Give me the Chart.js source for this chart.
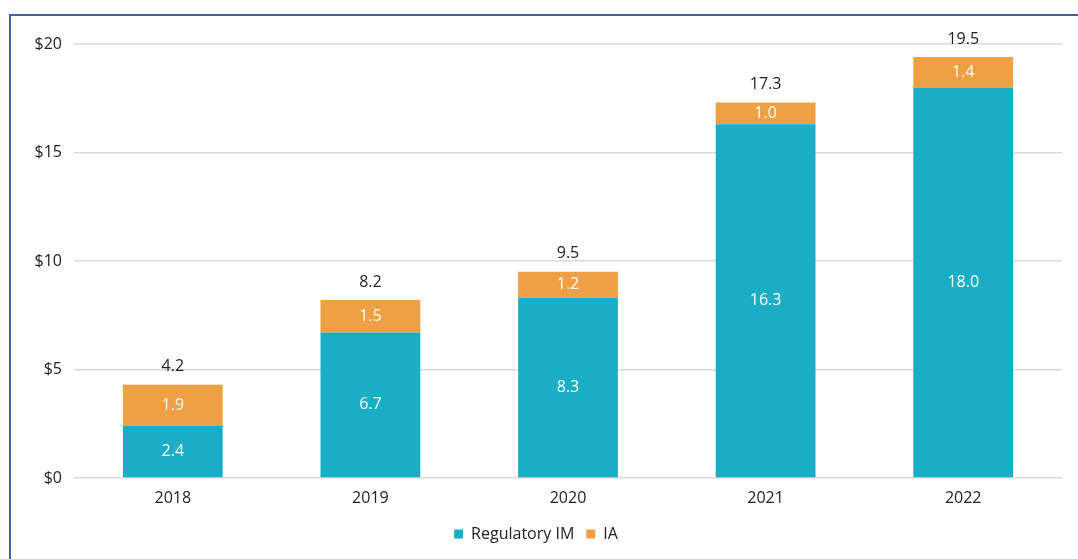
<!DOCTYPE html>
<html>
<head>
<meta charset="utf-8">
<script src="https://cdn.jsdelivr.net/npm/chart.js@4.4.0/dist/chart.umd.min.js"></script>
<style>
  html, body { margin: 0; padding: 0; background: #fff; overflow: hidden; }
  #frame { position: absolute; left: 9px; top: 14px; width: 1200px; height: 700px;
           border-left: 2px solid #3d62a6; border-top: 2px solid #3d62a6; }
  #wrap { position: absolute; left: 0; top: 0; width: 1078px; height: 559px; }
</style>
</head>
<body>
<div id="frame"></div>
<div id="wrap"><canvas id="chart" width="1078" height="559"></canvas></div>
<script>
const years = ['2018', '2019', '2020', '2021', '2022'];
const regulatoryIM = [2.4, 6.7, 8.3, 16.3, 18.0];
const ia = [1.9, 1.5, 1.2, 1.0, 1.4];
const totals = [4.2, 8.2, 9.5, 17.3, 19.5];
const yTicks = [0, 5, 10, 15, 20];

const FONT = '"Open Sans", "Noto Sans", sans-serif';

// labels inside bars and totals above
const valueLabels = {
    id: 'valueLabels',
    afterDatasetsDraw(chart) {
        const ctx = chart.ctx;
        ctx.save();
        ctx.textAlign = 'center';
        ctx.textBaseline = 'middle';
        ctx.font = '16px ' + FONT;
        chart.data.datasets.forEach((ds, i) => {
            const meta = chart.getDatasetMeta(i);
            meta.data.forEach((bar, j) => {
                const mid = (bar.y + bar.base) / 2;
                ctx.fillStyle = '#ffffff';
                ctx.fillText(ds.data[j].toFixed(1), bar.x, mid);
            });
        });
        const top = chart.getDatasetMeta(chart.data.datasets.length - 1);
        top.data.forEach((bar, j) => {
            ctx.fillStyle = '#222222';
            ctx.fillText(totals[j].toFixed(1), bar.x, bar.y - 18);
        });
        ctx.restore();
    }
};

new Chart(document.getElementById('chart'), {
    type: 'bar',
    data: {
        labels: years,
        datasets: [
            { label: 'Regulatory IM', data: regulatoryIM, backgroundColor: '#1aaec6' },
            { label: 'IA', data: ia, backgroundColor: '#f0a044' }
        ]
    },
    options: {
        responsive: false,
        animation: false,
        layout: { padding: { left: 10, right: 16, top: 44, bottom: 7 } },
        datasets: { bar: { categoryPercentage: 1, barPercentage: 0.505 } },
        plugins: {
            legend: {
                position: 'bottom',
                labels: {
                    boxWidth: 9, boxHeight: 9, padding: 12,
                    color: '#222', font: { family: FONT, size: 16 }
                }
            },
            tooltip: { enabled: false }
        },
        scales: {
            x: {
                stacked: true,
                grid: { display: false },
                border: { display: false },
                ticks: { color: '#222', font: { family: FONT, size: 16 }, padding: 3 },
                afterFit: axis => { axis.height = 36; }
            },
            y: {
                stacked: true,
                min: 0, max: 20,
                afterBuildTicks: axis => { axis.ticks = yTicks.map(v => ({ value: v })); },
                grid: { color: '#d9d9d9', lineWidth: 1.5, drawTicks: false },
                border: { display: false },
                ticks: {
                    color: '#222', padding: 12,
                    font: { family: FONT, size: 16 },
                    callback: v => '$' + v
                },
                afterFit: axis => { axis.width = 64; }
            }
        }
    },
    plugins: [valueLabels]
});
</script>
</body>
</html>
